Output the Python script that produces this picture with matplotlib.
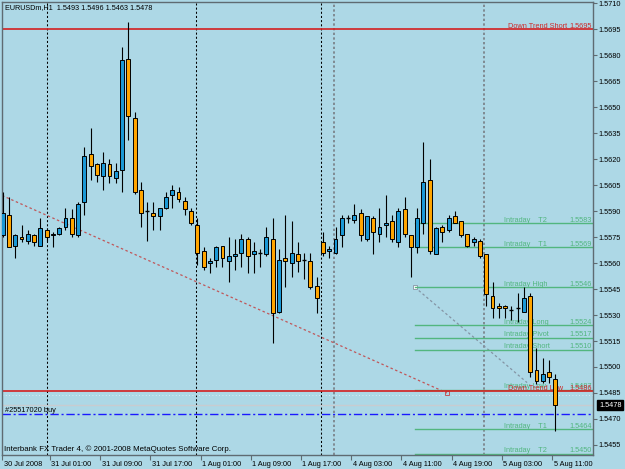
import matplotlib
matplotlib.use("Agg")
import matplotlib.pyplot as plt
import matplotlib.transforms as mtransforms
from matplotlib.patches import Rectangle

plt.rcParams['font.family'] = ['Liberation Sans', 'DejaVu Sans']

# EURUSDm H1 bars, oldest first (last bar = 5 Aug 11:00)
opens = [1.5576, 1.5588, 1.5570, 1.5575, 1.5573, 1.5576, 1.5570, 1.5579, 1.5576, 1.5577,
         1.5581, 1.5586, 1.5576, 1.5595, 1.5623, 1.5617, 1.5610, 1.5617, 1.5609, 1.5614,
         1.5678, 1.5644, 1.5602, 1.5590, 1.5589, 1.5587, 1.5592, 1.5599, 1.5601, 1.5596,
         1.5590, 1.5582, 1.5567, 1.5560, 1.5562, 1.5570, 1.5561, 1.5564, 1.5566, 1.5574,
         1.5565, 1.5566, 1.5565, 1.5574, 1.5532, 1.5563, 1.5560, 1.5565, 1.5562, 1.5561,
         1.5547, 1.5572, 1.5567, 1.5566, 1.5576, 1.5586, 1.5585, 1.5589, 1.5574, 1.5586,
         1.5577, 1.5582, 1.5584, 1.5572, 1.5591, 1.5576, 1.5569, 1.5583, 1.5608, 1.5565,
         1.5581, 1.5579, 1.5587, 1.5584, 1.5577, 1.5572, 1.5573, 1.5565, 1.5541, 1.5535,
         1.5535, 1.5533, 1.5534, 1.5532, 1.5541, 1.5498, 1.5492, 1.5497, 1.5493]
highs = [1.5601, 1.5598, 1.5577, 1.5582, 1.5579, 1.5577, 1.5586, 1.5580, 1.5578, 1.5581,
         1.5592, 1.5591, 1.5595, 1.5627, 1.5638, 1.5618, 1.5624, 1.5620, 1.5618, 1.5685,
         1.5699, 1.5647, 1.5607, 1.5595, 1.5595, 1.5592, 1.5601, 1.5605, 1.5604, 1.5598,
         1.5592, 1.5586, 1.5569, 1.5563, 1.5570, 1.5570, 1.5575, 1.5574, 1.5577, 1.5575,
         1.5572, 1.5568, 1.5581, 1.5586, 1.5568, 1.5588, 1.5584, 1.5572, 1.5566, 1.5566,
         1.5552, 1.5578, 1.5570, 1.5581, 1.5588, 1.5588, 1.5594, 1.5591, 1.5587, 1.5587,
         1.5592, 1.5599, 1.5588, 1.5592, 1.5598, 1.5576, 1.5592, 1.5630, 1.5620, 1.5581,
         1.5582, 1.5588, 1.5590, 1.5584, 1.5577, 1.5575, 1.5574, 1.5565, 1.5549, 1.5537,
         1.5536, 1.5535, 1.5543, 1.5546, 1.5543, 1.5511, 1.5505, 1.5504, 1.5496]
lows = [1.5575, 1.5569, 1.5563, 1.5572, 1.5571, 1.5570, 1.5570, 1.5573, 1.5569, 1.5576,
        1.5579, 1.5575, 1.5575, 1.5588, 1.5608, 1.5607, 1.5602, 1.5606, 1.5606, 1.5601,
        1.5631, 1.5600, 1.5581, 1.5573, 1.5579, 1.5579, 1.5591, 1.5592, 1.5595, 1.5588,
        1.5582, 1.5559, 1.5556, 1.5554, 1.5558, 1.5558, 1.5549, 1.5556, 1.5558, 1.5554,
        1.5554, 1.5558, 1.5564, 1.5514, 1.5531, 1.5546, 1.5552, 1.5555, 1.5551, 1.5545,
        1.5531, 1.5564, 1.5563, 1.5565, 1.5569, 1.5583, 1.5583, 1.5573, 1.5573, 1.5565,
        1.5572, 1.5575, 1.5572, 1.5569, 1.5575, 1.5552, 1.5566, 1.5577, 1.5565, 1.5565,
        1.5572, 1.5578, 1.5583, 1.5575, 1.5569, 1.5570, 1.5563, 1.5535, 1.5528, 1.5528,
        1.5528, 1.5527, 1.5526, 1.5532, 1.5494, 1.5490, 1.5491, 1.5491, 1.5463]
closes = [1.5589, 1.5569, 1.5576, 1.5574, 1.5577, 1.5572, 1.5580, 1.5575, 1.5577, 1.5580,
          1.5586, 1.5577, 1.5594, 1.5622, 1.5616, 1.5611, 1.5618, 1.5610, 1.5613, 1.5677,
          1.5645, 1.5601, 1.5589, 1.5590, 1.5587, 1.5592, 1.5598, 1.5602, 1.5597, 1.5591,
          1.5583, 1.5566, 1.5558, 1.5561, 1.5569, 1.5563, 1.5564, 1.5565, 1.5574, 1.5564,
          1.5567, 1.5566, 1.5575, 1.5531, 1.5562, 1.5561, 1.5566, 1.5561, 1.5562, 1.5546,
          1.5540, 1.5566, 1.5568, 1.5574, 1.5586, 1.5586, 1.5588, 1.5576, 1.5587, 1.5578,
          1.5581, 1.5583, 1.5574, 1.5590, 1.5577, 1.5569, 1.5586, 1.5607, 1.5567, 1.5580,
          1.5578, 1.5586, 1.5583, 1.5576, 1.5570, 1.5574, 1.5564, 1.5542, 1.5534, 1.5534,
          1.5534, 1.5533, 1.5534, 1.5540, 1.5497, 1.5492, 1.5496, 1.5494, 1.5478]

# time axis labels and the bar they belong to
time_labels = ["30 Jul 2008", "31 Jul 01:00", "31 Jul 09:00", "31 Jul 17:00", "1 Aug 01:00",
               "1 Aug 09:00", "1 Aug 17:00", "4 Aug 03:00", "4 Aug 11:00", "4 Aug 19:00",
               "5 Aug 03:00", "5 Aug 11:00"]
label_bars = [0, 8, 16, 24, 32, 40, 48, 56, 64, 72, 80, 88]

# period separators (bar positions)
sep_black = [7.05, 30.8, 50.7]
sep_gray = [52.75, 76.65]

# pivot levels
level_names = ["Intraday    T2", "Intraday    T1", "Intraday High", "Intraday Long", "Intraday Pivot",
               "Intraday Short", "Intraday Low", "Intraday    T1", "Intraday    T2"]
level_values = [1.5583, 1.5569, 1.5546, 1.5524, 1.5517, 1.5510, 1.5487, 1.5464, 1.5450]
level_start = 65.65

trend_names = ["Down Trend Short", "Down Trend Low"]
trend_values = [1.5695, 1.5486]

# trend lines: (bar, price) end points
red_trend_x = [-0.1, 70.75]
red_trend_y = [1.5599, 1.5485]
gray_trend_x = [65.65, 83.5]
gray_trend_y = [1.5546, 1.5491]

order_price = 1.5473
order_label = "#25517020 buy"
bid_price = 1.5478
faint_level = 1.5484

price_ticks = [1.5455 + 0.0015 * i for i in range(18)]

BG = '#add8e6'
BULL = '#1b98d5'
BEAR = '#ffa500'
GREEN = '#52b67f'
RED = '#d42020'

fig = plt.figure(figsize=(6.25, 4.69), dpi=100, facecolor=BG)
ax = fig.add_axes([2 / 625, 14 / 469, 591 / 625, 453 / 469], facecolor=BG)
ax.set_xlim(-0.11, 94.0)
ax.set_ylim(1.54492, 1.57107)

# separators
for s in sep_black:
    ax.axvline(s, color='black', lw=0.75, dashes=(2, 2), zorder=1)
for s in sep_gray:
    ax.axvline(s, color='#7f8a92', lw=1.4, dashes=(1.2, 1.2), zorder=1)

# bid / faint lines
ax.axhline(bid_price, color='#c8ccd0', lw=1.0, zorder=1)
ax.axhline(faint_level, color='white', lw=0.6, dashes=(1, 3), alpha=0.7, zorder=1)

# trend lines
ax.plot(red_trend_x, red_trend_y, color='#c0575a', lw=0.9, dashes=(2, 2), zorder=1.5)
ax.plot(red_trend_x[-1], red_trend_y[-1], marker='s', ms=2.5, mfc='none', mec='#c0575a', mew=0.7, zorder=1.5)
ax.plot(gray_trend_x, gray_trend_y, color='#8494a4', lw=0.9, dashes=(2, 2), zorder=1.5)
ax.plot(gray_trend_x[0], gray_trend_y[0], marker='s', ms=2.5, mfc='white', mec='#8494a4', mew=0.6, zorder=1.5)

tr = mtransforms.blended_transform_factory(ax.transAxes, ax.transData)

# intraday levels
for name, val in zip(level_names, level_values):
    ax.plot([level_start, 94.0], [val, val], color=GREEN, lw=1.0, zorder=2)
    ax.annotate(name, (0.8494, val), xycoords=tr, xytext=(0, 1.2), textcoords='offset points',
                color=GREEN, fontsize=5.3, va='baseline', ha='left', zorder=2.2)
    ax.annotate(f"{val:.4f}", (0.9985, val), xycoords=tr, xytext=(0, 1.2), textcoords='offset points',
                color=GREEN, fontsize=5.3, va='baseline', ha='right', zorder=2.2)

# down trend levels
for name, val in zip(trend_names, trend_values):
    ax.axhline(val, color=RED, lw=1.2, zorder=2.4)
    ax.annotate(name, (0.856, val), xycoords=tr, xytext=(0, 1.2), textcoords='offset points',
                color='#cc2a2a', fontsize=5.3, va='baseline', ha='left', zorder=2.5)
    ax.annotate(f"{val:.4f}", (0.9985, val), xycoords=tr, xytext=(0, 1.2), textcoords='offset points',
                color='#cc2a2a', fontsize=5.3, va='baseline', ha='right', zorder=2.5)

# order line
ax.axhline(order_price, color='#1a1aff', lw=1.0, dashes=(6, 2, 1.5, 2), zorder=2)
ax.annotate(order_label, (0.005, order_price), xycoords=tr, xytext=(0, 1.5), textcoords='offset points',
            fontsize=5.3, va='baseline', ha='left', color='black', zorder=2.2)

# candles
w = 0.62
for i, (o, h, l, c) in enumerate(zip(opens, highs, lows, closes)):
    ax.vlines(i, l, h, color='black', lw=0.8, zorder=3)
    if o == c:
        ax.hlines(o, i - w / 2, i + w / 2, color='black', lw=1.0, zorder=3.2)
    else:
        color = BULL if c > o else BEAR
        ax.add_patch(Rectangle((i - w / 2, min(o, c)), w, abs(c - o), facecolor=color,
                               edgecolor='black', lw=0.7, zorder=3.1))

# axes styling
for sp in ax.spines.values():
    sp.set_color('#5f6b72')
    sp.set_linewidth(1.0)

ax.yaxis.tick_right()
ax.set_yticks(price_ticks)
ax.set_yticklabels([f"{p:.4f}" for p in price_ticks])
ax.tick_params(axis='y', direction='out', length=3, width=0.8, color='#5f6b72', pad=1.2,
               labelsize=5.3, labelcolor='black')

tick_pos = [max(b - 0.5, -0.1) for b in label_bars]
ax.set_xticks(tick_pos)
ax.set_xticklabels(time_labels)
ax.tick_params(axis='x', direction='out', length=3.5, width=0.8, color='#5f6b72', pad=1.0,
               labelsize=5.3, labelcolor='black')
offset = mtransforms.ScaledTranslation(0.015, 0, fig.dpi_scale_trans)
for lab in ax.get_xticklabels():
    lab.set_horizontalalignment('left')
    lab.set_transform(lab.get_transform() + offset)

# bid price box
ax.annotate(f"{bid_price:.4f}", (1.0, bid_price), xycoords=tr, xytext=(4.3, 0), textcoords='offset points',
            color='white', fontsize=5.3, va='center', ha='left', annotation_clip=False,
            bbox=dict(boxstyle='square,pad=0.25', fc='black', ec='black'), zorder=5)

fig.text(5 / 625, 1 - 8 / 469, "EURUSDm,H1  1.5493 1.5496 1.5463 1.5478", fontsize=5.2,
         va='center', ha='left', color='black')
fig.text(4 / 625, 1 - 449 / 469, "Interbank FX Trader 4, \u00a9 2001-2008 MetaQuotes Software Corp.",
         fontsize=5.7, va='center', ha='left', color='black')

fig.savefig("out.png", dpi=100, facecolor=BG)
